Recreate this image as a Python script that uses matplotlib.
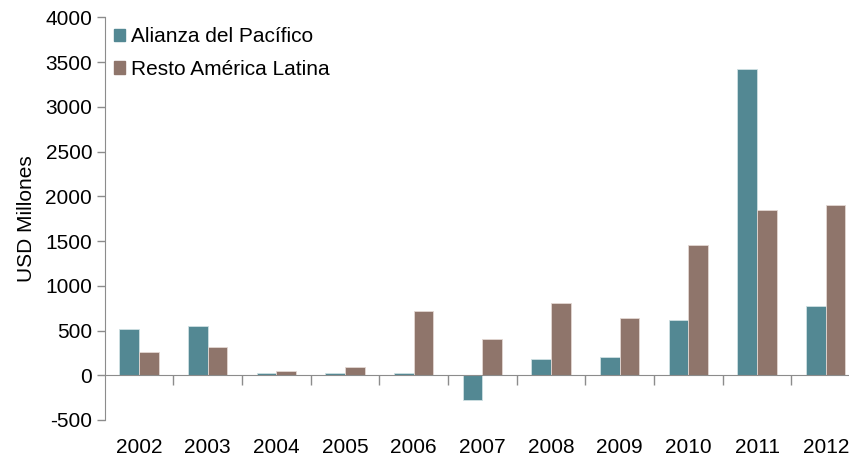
import matplotlib
matplotlib.use("Agg")
import matplotlib.pyplot as plt
from matplotlib.patches import Patch
import numpy as np

years = ["2002", "2003", "2004", "2005", "2006", "2007", "2008", "2009", "2010", "2011", "2012"]
alianza = [522, 556, 22, 30, 22, -272, 179, 201, 619, 3419, 772]
resto = [257, 313, 52, 89, 723, 403, 802, 645, 1454, 1842, 1902]

teal = "#538893"
brown = "#8f756b"
axis_grey = "#8c8c8c"

plt.rcParams["font.family"] = ["Liberation Sans", "DejaVu Sans"]
plt.rcParams["axes.unicode_minus"] = False

fig = plt.figure(figsize=(8.49, 4.57), dpi=100)
ax = fig.add_axes([0.1233, 0.081, 0.8897, 0.881])

x = np.arange(len(years))
w = 0.285
ax.bar(x - w / 2, alianza, w, color=teal, edgecolor="#cfe0e3", linewidth=0.6,
       label="Alianza del Pacífico")
ax.bar(x + w / 2, resto, w, color=brown, edgecolor="#e3d8d3", linewidth=0.6,
       label="Resto América Latina")

ax.set_xlim(-0.5, len(years) - 0.5)
ax.set_ylim(-500, 4000)
ax.set_yticks(np.arange(-500, 4001, 500))
ax.tick_params(axis="y", direction="out", length=6, width=1, color=axis_grey,
               labelsize=15, pad=3)

for s in ("top", "right"):
    ax.spines[s].set_visible(False)
ax.spines["left"].set_color(axis_grey)
ax.spines["bottom"].set_color(axis_grey)
ax.spines["bottom"].set_position(("data", 0))

# category separators on the zero line
ax.set_xticks(np.arange(0.5, len(years) - 0.5, 1.0), minor=True)
ax.set_xticks(x)
ax.tick_params(axis="x", which="major", length=0, labelbottom=False)
ax.tick_params(axis="x", which="minor", direction="out", length=7, width=1,
               color=axis_grey)

# year labels below the plotting area
sec = ax.secondary_xaxis(0.0)
sec.set_xticks(x)
sec.set_xticklabels(years)
sec.tick_params(length=0, labelsize=15, pad=13)
sec.spines["bottom"].set_visible(False)

ax.set_ylabel("USD Millones", fontsize=15, labelpad=7)

handles = [Patch(color=teal), Patch(color=brown)]
ax.legend(handles, ["Alianza del Pacífico", "Resto América Latina"],
          loc="upper left", bbox_to_anchor=(0.012, 0.975), frameon=False,
          fontsize=15, handlelength=0.55, handleheight=0.55, handletextpad=0.3,
          labelspacing=0.65, borderpad=0, borderaxespad=0)

fig.savefig("out.png", dpi=100)
